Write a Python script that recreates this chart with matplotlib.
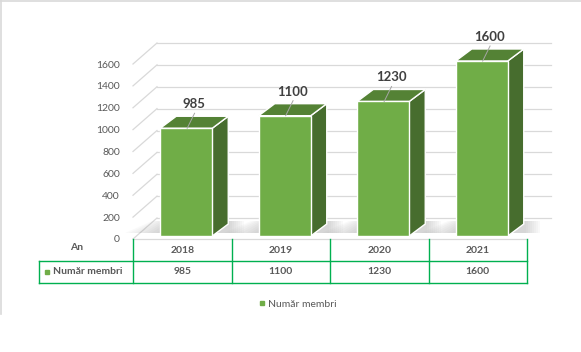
import matplotlib
matplotlib.use('Agg')
import matplotlib.pyplot as plt
from matplotlib.patches import Polygon
from matplotlib.lines import Line2D

# ---- data ----
years = ['2018', '2019', '2020', '2021']
members = [985, 1100, 1230, 1600]
yticks = [0, 200, 400, 600, 800, 1000, 1200, 1400, 1600]
series_name = 'Număr membri'
row_header = 'An'

plt.rcParams['font.family'] = ['Lato', 'DejaVu Sans']

TXT = '#595959'
LBL = '#404040'
GRID = '#D9D9D9'
GREEN_LINE = '#00B050'
C_FRONT = '#70AD47'
C_TOP = '#548235'
C_SIDE = '#476D2E'

W, H = 581, 352
fig = plt.figure(figsize=(W / 100, H / 100), dpi=100)
fig.patch.set_facecolor('white')

# axes = front plane of the floor
ax = fig.add_axes([133 / W, (H - 239) / H, (527 - 133) / W, 175 / H])
ax.set_xlim(-0.5, len(years) - 0.5)
ax.set_ylim(0, 1600)
ax.set_facecolor('none')
for s in ax.spines.values():
    s.set_visible(False)
ax.set_xticks([])
ax.set_yticks(yticks)
ax.tick_params(axis='y', length=0, pad=9.5, labelsize=7.5, labelcolor=TXT)

# pixel -> data unit factors
pcx = (527 - 133) / len(years)
pcy = 175 / 1600.0
def off(px, py):
    return px / pcx, py / pcy

fxo, fyo = off(4, 3)      # bar front plane
bxo, byo = off(20, 15)    # bar back plane
wxo, wyo = off(24, 21)    # back wall
xl, xr = -0.5, len(years) - 0.5

# gridlines: side diagonals + back wall lines
for v in yticks:
    ax.plot([xl, xl + wxo], [v, v + wyo], color=GRID, lw=0.9, clip_on=False, zorder=1)
    ax.plot([xl + wxo, xr + wxo], [v + wyo, v + wyo], color=GRID, lw=0.9, clip_on=False, zorder=1)
# floor front edge
ax.plot([xl, xr], [0, 0], color=GRID, lw=0.9, clip_on=False, zorder=1)

bw = 52 / pcx
dx, dy = bxo - fxo, byo - fyo
for i, v in enumerate(members):
    x0 = i - bw / 2 + fxo
    x1 = i + bw / 2 + fxo
    y0 = fyo
    y1 = v + fyo
    # soft shadow on the floor
    n = 8
    for k in range(n):
        e = (n - k) * 2.0 / pcx
        sy0 = y0 + 0.25 * dy
        sy1 = y0 + dy + off(0, 3)[1]
        sh = [(x0 - 2.2 * e, sy0), (x1 + dx + e, sy0),
              (x1 + dx + e, sy1), (x0 + dx - 1.5 * e, sy1)]
        ax.add_patch(Polygon(sh, closed=True, facecolor='#808080', edgecolor='none',
                             alpha=0.045, clip_on=False, zorder=2))
    front = [(x0, y0), (x1, y0), (x1, y1), (x0, y1)]
    top = [(x0, y1), (x1, y1), (x1 + dx, y1 + dy), (x0 + dx, y1 + dy)]
    side = [(x1, y0), (x1 + dx, y0 + dy), (x1 + dx, y1 + dy), (x1, y1)]
    for poly, c in ((side, C_SIDE), (top, C_TOP), (front, C_FRONT)):
        ax.add_patch(Polygon(poly, closed=True, facecolor=c, edgecolor='white',
                             lw=1.0, joinstyle='miter', clip_on=False, zorder=3))
    # data label + leader line
    lx = i + 0.12
    ly = v + off(0, 27)[1]
    ax.text(lx, ly, str(v), ha='center', va='center', fontsize=9.5,
            fontweight='bold', color=LBL, clip_on=False, zorder=5)
    ax.plot([lx + 0.005, i + 0.05], [ly - off(0, 9)[1], y1], color='#A6A6A6',
            lw=0.7, clip_on=False, zorder=4)

# ---- data table ----
xt = ax.get_xaxis_transform()
r0, r1, r2 = 0.0, -22 / 175, -44 / 175
xleft = xl + (39 - 133) / pcx
for k in range(len(years) + 1):
    ax.plot([xl + k, xl + k], [r0, r2], transform=xt, color=GREEN_LINE, lw=1.0,
            clip_on=False, zorder=3)
ax.plot([xleft, xleft], [r1, r2], transform=xt, color=GREEN_LINE, lw=1.0, clip_on=False)
for r in (r1, r2):
    ax.plot([xleft, xr], [r, r], transform=xt, color=GREEN_LINE, lw=1.0, clip_on=False)

for i, (yr, v) in enumerate(zip(years, members)):
    ax.text(i, (r0 + r1) / 2 - 0.004, yr, transform=xt, ha='center', va='center',
            fontsize=7.5, fontweight='bold', color=TXT, clip_on=False)
    ax.text(i, (r1 + r2) / 2, str(v), transform=xt, ha='center', va='center',
            fontsize=7.5, fontweight='bold', color=TXT, clip_on=False)

ax.text(xl + (77 - 133) / pcx, -8 / 175, row_header, transform=xt, ha='center',
        va='center', fontsize=7.5, fontweight='bold', color=TXT, clip_on=False)
ax.plot([xl + (46.5 - 133) / pcx], [(r1 + r2) / 2], transform=xt, marker='s',
        ms=3.3, color=C_FRONT, ls='', clip_on=False)
ax.text(xl + (53 - 133) / pcx, (r1 + r2) / 2, series_name, transform=xt, ha='left',
        va='center', fontsize=7.5, fontweight='bold', color=TXT, clip_on=False)

# ---- legend ----
handle = Line2D([], [], marker='s', ls='', color=C_FRONT, markersize=3.5)
fig.legend(handles=[handle], labels=[series_name], loc='center',
           bbox_to_anchor=(297 / W, 1 - 304 / H), frameon=False, fontsize=7.5,
           handletextpad=0.2, handlelength=0.8, labelcolor=TXT)

# ---- chart area border (top and left visible) ----
fig.add_artist(Line2D([0.5 / W, 0.5 / W], [1, 1 - 314 / H], color=GRID, lw=1.2))
fig.add_artist(Line2D([0, 1], [1 - 0.5 / H, 1 - 0.5 / H], color=GRID, lw=1.2))

fig.savefig('out.png', dpi=100, facecolor='white')
